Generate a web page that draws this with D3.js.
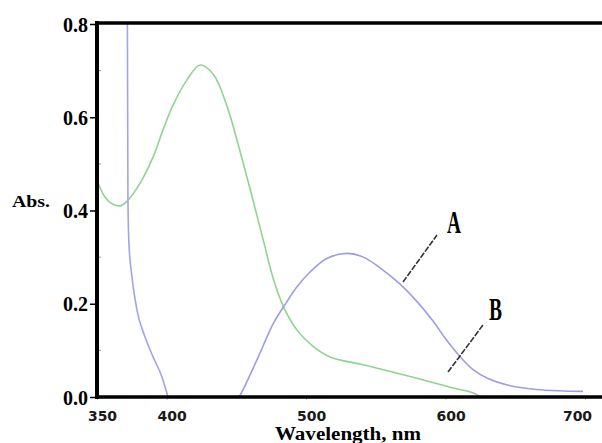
<!DOCTYPE html>
<html>
<head>
<meta charset="utf-8">
<script src="https://cdn.jsdelivr.net/npm/d3@7"></script>
<style>
  body { margin: 0; background: #fff; }
  svg { display: block; }
</style>
</head>
<body>
<svg id="chart" width="602" height="443"></svg>
<script>
"use strict";

// Data
var xTicks = [350, 400, 500, 600, 700];
var yTicks = [0, 0.2, 0.4, 0.6, 0.8];
var yMinor = [0.1, 0.3, 0.5, 0.7];

// curve A (blue), short-wave branch
var waveA1 = [371.8, 372.0, 372.2, 372.9, 375.1, 378.7, 384.4, 390.2, 396.6, 400.9];
var absA1 = [0.80, 0.60, 0.42, 0.33, 0.257, 0.186, 0.129, 0.086, 0.043, 0.0];
// curve A (blue), visible band
var waveA2 = [451.1, 452.6, 464.6, 476.5, 486.1, 493.3, 502.8, 514.8, 529.1, 541, 553, 567, 580, 591, 600, 610, 620, 630, 645, 665, 685, 698.6];
var absA2 = [0.0, 0.004, 0.079, 0.158, 0.204, 0.236, 0.268, 0.297, 0.308, 0.300, 0.277, 0.243, 0.203, 0.163, 0.125, 0.088, 0.058, 0.040, 0.025, 0.016, 0.013, 0.012];
// curve B (green)
var waveB = [350, 355.7, 361, 366.5, 371.3, 380.8, 390.4, 397.6, 404.7, 414.3, 423.9, 433.4, 443, 451.4, 461.9, 469.3, 476.5, 483.7, 493.3, 505.2, 517.1, 541, 574.5, 603.2, 619.7, 625];
var absB = [0.465, 0.429, 0.414, 0.41, 0.419, 0.458, 0.516, 0.575, 0.627, 0.679, 0.712, 0.692, 0.626, 0.54, 0.422, 0.336, 0.253, 0.194, 0.144, 0.108, 0.086, 0.069, 0.044, 0.021, 0.009, 0.0];

var svg = d3.select("#chart");
var plotLeft = 97, plotRight = 585, plotTop = 24, plotBottom = 397;

var x = d3.scaleLinear().domain([350, 700]).range([plotLeft, plotRight]);
var y = d3.scaleLinear().domain([0, 0.8]).range([plotBottom, plotTop]);

function pts(w, a) {
  return w.map(function(d, i) { return [d, a[i]]; });
}

var smooth = d3.line()
  .x(function(d) { return x(d[0]); })
  .y(function(d) { return y(d[1]); })
  .curve(d3.curveCatmullRom.alpha(0.5));
var steep = d3.line()
  .x(function(d) { return x(d[0]); })
  .y(function(d) { return y(d[1]); })
  .curve(d3.curveMonotoneX);

// curves
svg.append("path").attr("d", smooth(pts(waveB, absB)))
  .attr("fill", "none").attr("stroke", "#8fd48f").attr("stroke-width", 1.6);
svg.append("path").attr("d", steep(pts(waveA1, absA1)))
  .attr("fill", "none").attr("stroke", "#a3a3ea").attr("stroke-width", 1.6);
svg.append("path").attr("d", smooth(pts(waveA2, absA2)))
  .attr("fill", "none").attr("stroke", "#9d9de6").attr("stroke-width", 1.6);

// x axis
var xAxis = svg.append("g")
  .attr("transform", "translate(0," + plotBottom + ")")
  .call(d3.axisBottom(x).tickValues(xTicks).tickSize(3).tickFormat(d3.format("d")));
xAxis.select(".domain").remove();
xAxis.selectAll(".tick line").attr("stroke", "#bbb");
xAxis.selectAll(".tick text")
  .attr("dx", function(d) { return d === 700 ? -8 : 5; }).attr("y", 14)
  .style("font-family", "DejaVu Sans").style("font-weight", "bold")
  .style("font-size", "14px").attr("fill", "#1a1a1a");

// y axis
var yAxis = svg.append("g")
  .attr("transform", "translate(" + plotLeft + ",0)")
  .call(d3.axisLeft(y).tickValues(yTicks).tickSize(7).tickFormat(d3.format(".1f")));
yAxis.select(".domain").remove();
yAxis.selectAll(".tick line").attr("stroke", "#000").attr("stroke-width", 1.5);
yAxis.selectAll(".tick text")
  .attr("x", -9).attr("dy", "0.36em")
  .style("font-family", "Liberation Serif").style("font-weight", "bold")
  .style("font-size", "20px").attr("fill", "#000");

// minor ticks, inside
svg.selectAll(".minor").data(yMinor).enter().append("line")
  .attr("x1", plotLeft).attr("x2", plotLeft + 4)
  .attr("y1", function(d) { return y(d); }).attr("y2", function(d) { return y(d); })
  .attr("stroke", "#999").attr("stroke-width", 1);

// frame
svg.append("line").attr("x1", plotLeft).attr("x2", 602).attr("y1", plotTop - 1).attr("y2", plotTop - 1)
  .attr("stroke", "#000").attr("stroke-width", 3.5);
svg.append("line").attr("x1", plotLeft).attr("x2", 602).attr("y1", plotBottom).attr("y2", plotBottom)
  .attr("stroke", "#000").attr("stroke-width", 3.5);
svg.append("line").attr("x1", plotLeft).attr("x2", plotLeft).attr("y1", plotTop - 3).attr("y2", plotBottom + 2)
  .attr("stroke", "#000").attr("stroke-width", 4);

// axis titles
svg.append("text").attr("x", 12).attr("y", 207).text("Abs.")
  .attr("textLength", 38).attr("lengthAdjust", "spacingAndGlyphs")
  .style("font-family", "Liberation Serif").style("font-weight", "bold").style("font-size", "17px");
svg.append("text").attr("x", 275).attr("y", 440).text("Wavelength, nm")
  .attr("textLength", 146).attr("lengthAdjust", "spacingAndGlyphs")
  .style("font-family", "Liberation Serif").style("font-weight", "bold").style("font-size", "18px");

// A / B labels with leader lines
svg.append("line").attr("x1", 403).attr("y1", 282).attr("x2", 437).attr("y2", 235)
  .attr("stroke", "#333").attr("stroke-width", 1.6).attr("stroke-dasharray", "6,1.5");
svg.append("line").attr("x1", 448).attr("y1", 372).attr("x2", 483).attr("y2", 325)
  .attr("stroke", "#333").attr("stroke-width", 1.6).attr("stroke-dasharray", "6,1.5");
svg.append("text").attr("x", 447).attr("y", 233).text("A")
  .attr("textLength", 14).attr("lengthAdjust", "spacingAndGlyphs")
  .style("font-family", "Liberation Sans Narrow").style("font-weight", "bold").style("font-size", "31px");
svg.append("text").attr("x", 489).attr("y", 320).text("B")
  .attr("textLength", 13).attr("lengthAdjust", "spacingAndGlyphs")
  .style("font-family", "Liberation Sans Narrow").style("font-weight", "bold").style("font-size", "31px");
</script>
</body>
</html>
